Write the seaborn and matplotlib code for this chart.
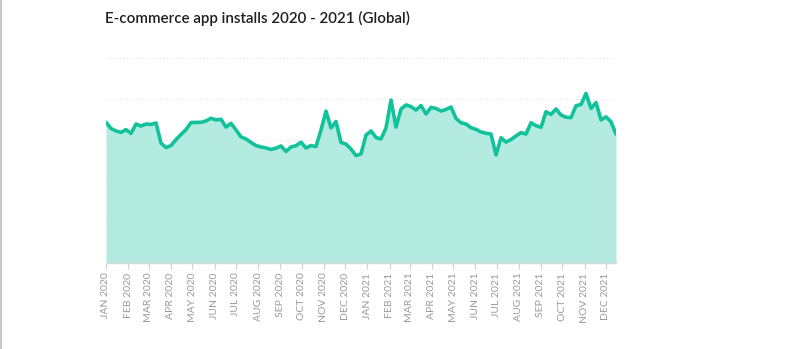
import matplotlib
matplotlib.use("Agg")
import matplotlib.pyplot as plt
import matplotlib.dates as mdates
from matplotlib.lines import Line2D
import seaborn as sns
import pandas as pd
import numpy as np

title = "E-commerce app installs 2020 - 2021 (Global)"
start_date = "2020-01-01"
installs = [
    68.6, 65.6, 64.4, 63.7, 65.1, 63.2, 67.8, 66.8, 67.8, 67.6,
    68.3, 58.5, 56.3, 57.3, 60.2, 62.7, 65.1, 68.5, 68.6, 68.6,
    69.3, 70.6, 69.8, 70.1, 66.3, 68.1, 64.9, 61.5, 60.5, 58.8,
    57.3, 56.6, 56.1, 55.4, 56.0, 57.1, 54.4, 56.6, 57.2, 58.9,
    56.1, 57.3, 56.8, 64.9, 74.1, 65.9, 69.0, 58.8, 58.0, 55.6,
    52.4, 53.2, 62.4, 64.4, 61.2, 60.5, 65.9, 79.5, 66.3, 75.1,
    77.1, 76.3, 74.6, 76.8, 72.7, 75.9, 75.4, 74.1, 74.9, 76.1,
    70.5, 68.4, 67.8, 66.0, 65.2, 63.9, 63.3, 62.9, 52.7, 61.1,
    59.0, 60.2, 62.0, 63.6, 62.9, 68.4, 67.0, 66.2, 73.8, 72.5,
    75.1, 72.2, 71.1, 70.9, 76.7, 77.3, 82.7, 75.4, 78.3, 69.8,
    71.3, 68.9, 62.9,
]
dates = pd.date_range(start_date, periods=len(installs), freq="7D")
df = pd.DataFrame({"date": dates, "installs": installs})

sns.set_theme(style="white")
plt.rcParams["font.family"] = ["Lato", "DejaVu Sans"]

fig = plt.figure(figsize=(7.94, 3.49), dpi=100)
ax = fig.add_axes([106 / 794, 1 - 263 / 349, 510 / 794, 205 / 349])

line_c = "#12c29b"
fill_c = "#b3ebe1"
ax.fill_between(df["date"], df["installs"], 0, color=fill_c, linewidth=0, zorder=1)
sns.lineplot(data=df, x="date", y="installs", ax=ax, color=line_c, linewidth=2.6, zorder=3)

ax.set_ylim(0, 100)
ax.set_xlim(df["date"].iloc[0], df["date"].iloc[-1])
ax.set_yticks([0, 20, 40, 60, 80, 100])
ax.yaxis.grid(True, color="#e3e3e3", linestyle=(0, (1, 2)), linewidth=0.8)
ax.xaxis.grid(False)
ax.set_axisbelow(True)
ax.tick_params(axis="y", left=False, labelleft=False)
for s in ["top", "right", "left"]:
    ax.spines[s].set_visible(False)
ax.spines["bottom"].set_color("#d8d8d8")
ax.spines["bottom"].set_linewidth(1.0)

ax.xaxis.set_major_locator(mdates.MonthLocator())
ax.xaxis.set_major_formatter(mdates.DateFormatter("%b %Y"))
fig.canvas.draw()
labels = [t.get_text().upper() for t in ax.get_xticklabels()]
ax.set_xticks(ax.get_xticks())
ax.set_xticklabels(labels, rotation=90, fontsize=7.5, color="#9a9a9a")
ax.tick_params(axis="x", bottom=True, length=4, width=0.8, color="#d0d0d0", pad=3)
ax.set_xlabel("")
ax.set_ylabel("")

fig.text(105 / 794, 1 - 18 / 349, title, fontsize=10.9, fontweight="semibold",
         color="#1f1f1f", va="center", ha="left")

fig.add_artist(Line2D([0.0015, 0.0015], [0, 1], transform=fig.transFigure,
                      color="#c8c8c8", linewidth=1.5))

fig.savefig("out.png", dpi=100, facecolor="white")
